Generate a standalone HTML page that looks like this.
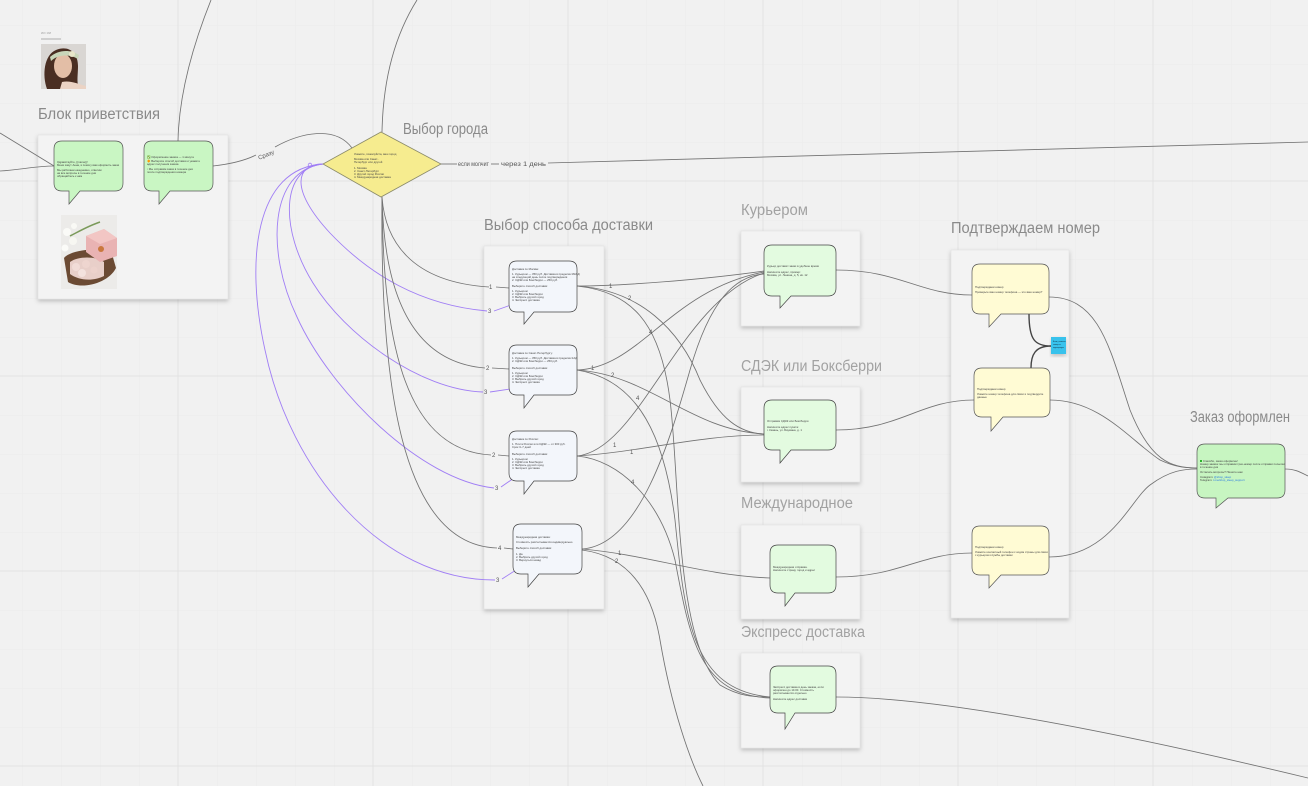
<!DOCTYPE html>
<html><head><meta charset="utf-8"><style>
html,body{margin:0;padding:0;background:#f1f1f1;}
svg{display:block;font-family:"Liberation Sans","DejaVu Sans",sans-serif;}
.t{fill:#8a8a8a;font-size:15.5px;}
.t2{fill:#a2a2a2;font-size:15.5px;}
.c{fill:none;stroke:#727272;stroke-width:0.85;}
.p{fill:none;stroke:#a07ef5;stroke-width:0.9;}
.lb{font-size:6px;fill:#555;}
.tx{font-size:2.8px;fill:#444;}
.fr{fill:#f3f3f3;stroke:#e2e2e2;stroke-width:0.6;filter:url(#sh);}
</style></head><body>
<svg width="1308" height="786" viewBox="0 0 1308 786" xmlns="http://www.w3.org/2000/svg">
<defs>
<pattern id="g" x="22" y="25" width="39" height="39" patternUnits="userSpaceOnUse">
<path d="M0,0 H39 M0,0 V39" stroke="#eaeaea" stroke-width="0.7" fill="none"/>
</pattern>
<filter id="sh" x="-10%" y="-10%" width="130%" height="130%">
<feDropShadow dx="0" dy="2" stdDeviation="2" flood-color="#000" flood-opacity="0.22"/>
</filter>
</defs>
<rect width="1308" height="786" fill="#f1f1f1"/>
<rect width="1308" height="786" fill="url(#g)"/>
<g stroke="#e2e2e2" stroke-width="0.9">
<line x1="178" y1="0" x2="178" y2="786"/><line x1="373" y1="0" x2="373" y2="786"/>
<line x1="568" y1="0" x2="568" y2="786"/><line x1="763" y1="0" x2="763" y2="786"/>
<line x1="958" y1="0" x2="958" y2="786"/><line x1="1153" y1="0" x2="1153" y2="786"/>
<line x1="0" y1="181" x2="1308" y2="181"/><line x1="0" y1="376" x2="1308" y2="376"/>
<line x1="0" y1="571" x2="1308" y2="571"/><line x1="0" y1="766" x2="1308" y2="766"/>
</g>

<!-- Frames -->
<rect class="fr" x="38" y="135" width="190" height="164"/>
<rect class="fr" x="484" y="246" width="120" height="363"/>
<rect class="fr" x="741" y="231" width="119" height="95"/>
<rect class="fr" x="741" y="387" width="119" height="95"/>
<rect class="fr" x="741" y="525" width="119" height="94"/>
<rect class="fr" x="741" y="653" width="119" height="95"/>
<rect class="fr" x="951" y="250" width="118" height="368"/>

<!-- Titles -->
<text class="t" x="38" y="119" textLength="122" lengthAdjust="spacingAndGlyphs">Блок приветствия</text>
<text class="t" x="403" y="134" textLength="85" lengthAdjust="spacingAndGlyphs">Выбор города</text>
<text class="t" x="484" y="230" textLength="169" lengthAdjust="spacingAndGlyphs">Выбор способа доставки</text>
<text class="t2" x="741" y="215" textLength="67" lengthAdjust="spacingAndGlyphs">Курьером</text>
<text class="t2" x="741" y="371" textLength="141" lengthAdjust="spacingAndGlyphs">СДЭК или Боксберри</text>
<text class="t2" x="741" y="508" textLength="112" lengthAdjust="spacingAndGlyphs">Международное</text>
<text class="t2" x="741" y="637" textLength="124" lengthAdjust="spacingAndGlyphs">Экспресс доставка</text>
<text class="t" x="951" y="233" textLength="149" lengthAdjust="spacingAndGlyphs">Подтверждаем номер</text>
<text class="t" x="1190" y="422" textLength="100" lengthAdjust="spacingAndGlyphs">Заказ оформлен</text>

<!-- Top-left avatar -->
<text x="41" y="34" font-size="4" fill="#aaa">ии ии</text>
<rect x="41" y="38" width="20" height="2" fill="#cfcfcf"/>
<rect x="41" y="44" width="45" height="45" fill="#d9d6d3"/>
<path d="M47,89 C42,75 44,55 56,50 C68,45 78,52 78,66 C78,76 76,84 80,89 Z" fill="#4a2e22"/>
<ellipse cx="63" cy="66" rx="9" ry="12" fill="#e3bea6"/>
<path d="M62,82 C70,80 78,84 86,86 L86,89 L60,89 Z" fill="#ebd3c4"/>
<path d="M50,57 C58,50 70,49 79,55 L78,59 C70,54 58,54 51,61 Z" fill="#c9d6b9"/>
<circle cx="72" cy="54" r="3" fill="#e8e6c9"/>

<!-- Product photo -->
<rect x="61" y="215" width="56" height="74" fill="#ecebe9"/>
<path d="M64,258 C70,250 100,246 112,254 L116,268 C108,284 80,290 68,282 Z" fill="#6b4a33"/>
<path d="M70,262 C78,256 96,256 104,262 L104,276 C92,282 78,280 70,274 Z" fill="#e8cfc9"/>
<circle cx="76" cy="267" r="4" fill="#f1dcd7"/><circle cx="86" cy="264" r="4" fill="#eed5cf"/><circle cx="82" cy="273" r="4" fill="#f3e2de"/><circle cx="94" cy="270" r="3.5" fill="#ecd2cc"/>
<path d="M86,236 L104,229 L117,238 L117,256 L100,262 L86,252 Z" fill="#e9b3b3"/>
<path d="M86,236 L104,229 L117,238 L100,244 Z" fill="#f2c6c4"/>
<circle cx="101" cy="249" r="3" fill="#c9783e"/>
<circle cx="67" cy="232" r="4" fill="#fafaf7"/><circle cx="73" cy="241" r="4" fill="#f7f7f2"/><circle cx="65" cy="248" r="3.5" fill="#fbfbf8"/><circle cx="74" cy="226" r="3" fill="#f9f9f5"/>
<path d="M70,236 C78,232 88,226 100,222" stroke="#7a9a5a" stroke-width="1.5" fill="none"/>

<!-- Connectors: top & left -->
<path class="c" d="M211,0 C195,40 179,90 178,141"/>
<path class="c" d="M417,0 C395,35 383,80 382,132"/>
<path class="c" d="M0,133 L54,166"/>
<path class="c" d="M0,171 C20,170 35,166 54,166"/>
<path class="c" d="M213,166 C240,163 252,157 256,155 M275,147 C300,133 335,125 352,148"/>
<text class="lb" x="257" y="157" transform="rotate(-22 265 153)">Сразу</text>

<!-- Diamond right -->
<path class="c" d="M441,164 H457" stroke-width="1.4"/>
<text class="lb" x="458" y="166" textLength="31" lengthAdjust="spacingAndGlyphs">если молчит</text>
<path class="c" d="M491,164 H499"/>
<text class="lb" x="501" y="166" textLength="45" lengthAdjust="spacingAndGlyphs">через 1 день</text>
<path class="c" d="M548,163 L1308,142"/>

<!-- Purple back links -->
<g class="p">
<path d="M323,164 C295,164 290,190 330,233 C370,275 420,305 487,311 M494,311 L511,305"/>
<path d="M323,164 C280,168 280,230 313,283 C345,335 420,390 483,392 M490,392 L510,389"/>
<path d="M323,164 C270,170 265,250 297,317 C330,390 420,480 494,488 M501,487 L514,478"/>
<path d="M323,164 C255,168 245,260 265,350 C290,470 380,580 495,580 M502,579 L516,570"/>
</g>
<circle cx="310" cy="165" r="1.8" fill="none" stroke="#a07ef5" stroke-width="0.8"/>
<text class="lb" x="488" y="313">3</text>
<text class="lb" x="484" y="394">3</text>
<text class="lb" x="495" y="490">3</text>
<text class="lb" x="496" y="582">3</text>

<!-- Black from diamond bottom -->
<g class="c">
<path d="M382,197 C385,240 410,282 489,287 M496,287 L509,288"/>
<path d="M382,197 C384,290 410,362 485,368 M492,368 L509,369"/>
<path d="M382,197 C383,330 400,450 491,455 M498,455 L509,456"/>
<path d="M382,197 C380,380 400,545 497,548 M504,548 L513,549"/>
</g>
<text class="lb" x="489" y="289">1</text>
<text class="lb" x="486" y="370">2</text>
<text class="lb" x="492" y="457">2</text>
<text class="lb" x="498" y="550">4</text>

<!-- Delivery choice -> methods -->
<g class="c">
<path d="M577,286 C620,286 700,280 764,271"/>
<path d="M577,286 C640,290 680,330 700,380 C720,420 740,433 764,434"/>
<path d="M577,286 C630,292 660,320 670,400 C680,480 675,640 720,685 C740,697 755,697 770,697"/>
<path d="M577,370 C640,368 670,290 764,272"/>
<path d="M577,370 C650,375 690,430 764,434"/>
<path d="M577,370 C640,380 665,440 675,520 C685,620 692,690 770,697"/>
<path d="M577,456 C640,450 680,300 764,273"/>
<path d="M577,456 C640,452 700,435 764,435"/>
<path d="M577,456 C620,460 660,500 675,560 C690,640 700,695 770,698"/>
<path d="M582,549 C640,545 670,440 690,370 C710,300 735,276 764,274"/>
<path d="M582,549 C650,555 700,575 770,578"/>
<path d="M582,550 C620,555 650,580 660,640 C672,710 690,760 703,786"/>
</g>
<g class="lb" font-size="5">
<text x="609" y="288">1</text><text x="628" y="300">2</text><text x="649" y="334">4</text>
<text x="591" y="370">1</text><text x="611" y="377">2</text><text x="636" y="400">4</text>
<text x="613" y="447">1</text><text x="630" y="454">1</text><text x="631" y="484">4</text>
<text x="618" y="555">1</text><text x="615" y="563">2</text>
</g>

<!-- Methods -> confirm -->
<g class="c">
<path d="M836,270 C900,270 920,295 972,295"/>
<path d="M836,430 C900,430 920,400 974,400"/>
<path d="M836,577 C900,577 920,553 972,553"/>
<path d="M836,697 C950,697 1150,740 1308,778"/>
<path d="M1049,297 C1100,297 1110,350 1130,410 C1150,460 1170,468 1197,468"/>
<path d="M1050,400 C1100,400 1130,440 1160,460 C1175,467 1185,468 1197,468"/>
<path d="M1049,557 C1110,557 1130,500 1150,485 C1170,470 1185,469 1197,469"/>
<path d="M1285,469 C1295,469 1300,472 1308,476"/>
</g>
<path d="M1029,314 C1029,340 1035,346 1051,346 M1031,368 C1031,355 1035,346 1051,346" fill="none" stroke="#444" stroke-width="1.4"/>

<!-- Diamond -->
<polygon points="381,132 441,164 381,197 323,164" fill="#f6ec8f" stroke="#8a8a6a" stroke-width="0.8"/>
<g class="tx" font-size="2.5">
<text x="354" y="155">Укажите, пожалуйста, ваш город</text>
<text x="354" y="160">Москва или Санкт-</text><text x="354" y="163">Петербург или другой</text>
<text x="354" y="169">1. Москва</text><text x="354" y="172">2. Санкт-Петербург</text>
<text x="354" y="175">3. Другой город России</text><text x="354" y="178">4. Международная доставка</text>
</g>

<!-- Welcome bubbles -->
<path d="M62,141 H115 Q123,141 123,149 V183 Q123,191 115,191 H80 L69,204 L69,191 H62 Q54,191 54,183 V149 Q54,141 62,141 Z" fill="#c9f6c3" stroke="#555" stroke-width="0.7"/>
<path d="M152,141 H205 Q213,141 213,149 V183 Q213,191 205,191 H170 L159,204 L159,191 H152 Q144,191 144,183 V149 Q144,141 152,141 Z" fill="#c9f6c3" stroke="#555" stroke-width="0.7"/>
<g class="tx">
<text x="57" y="163">Здравствуйте, {{name}}!</text>
<text x="57" y="166">Меня зовут Анна, я помогу вам оформить заказ</text>
<text x="57" y="171">Мы работаем ежедневно, ответим</text>
<text x="57" y="174">на все вопросы в течение дня</text>
<text x="57" y="177">обращайтесь к нам</text>
<text x="147" y="158">✅ Оформление заказа — 1 минута</text>
<text x="147" y="162">🔶 Выберите способ доставки и укажите</text>
<text x="147" y="165">адрес получения заказа</text>
<text x="147" y="170">▫ Мы отправим заказ в течение дня</text>
<text x="147" y="173">после подтверждения номера</text>
</g>

<!-- Delivery choice bubbles -->
<g fill="#f3f6fb" stroke="#444" stroke-width="0.7">
<path d="M517,261 H569 Q577,261 577,269 V304 Q577,312 569,312 H534 L524,324 L524,312 H517 Q509,312 509,304 V269 Q509,261 517,261 Z"/>
<path d="M517,345 H569 Q577,345 577,353 V387 Q577,395 569,395 H534 L524,408 L524,395 H517 Q509,395 509,387 V353 Q509,345 517,345 Z"/>
<path d="M517,431 H569 Q577,431 577,439 V473 Q577,481 569,481 H534 L524,494 L524,481 H517 Q509,481 509,473 V439 Q509,431 517,431 Z"/>
<path d="M521,524 H574 Q582,524 582,532 V566 Q582,574 574,574 H539 L528,587 L528,574 H521 Q513,574 513,566 V532 Q513,524 521,524 Z"/>
</g>
<g class="tx">
<text x="512" y="270">Доставка по Москве:</text>
<text x="512" y="275">1. Курьером — 350 руб. Доставка в пределах МКАД</text><text x="512" y="278">на следующий день после подтверждения</text><text x="512" y="281">2. СДЭК или Боксберри — 250 руб.</text>
<text x="512" y="287">Выберите способ доставки:</text>
<text x="512" y="292">1. Курьером</text><text x="512" y="295">2. СДЭК или Боксберри</text><text x="512" y="298">3. Выбрать другой город</text><text x="512" y="301">4. Экспресс доставка</text>
<text x="512" y="354">Доставка по Санкт-Петербургу:</text>
<text x="512" y="359">1. Курьером — 350 руб. Доставка в пределах КАД</text><text x="512" y="362">2. СДЭК или Боксберри — 250 руб.</text>
<text x="512" y="369">Выберите способ доставки:</text>
<text x="512" y="374">1. Курьером</text><text x="512" y="377">2. СДЭК или Боксберри</text><text x="512" y="380">3. Выбрать другой город</text><text x="512" y="383">4. Экспресс доставка</text>
<text x="512" y="440">Доставка по России:</text>
<text x="512" y="445">1. Почта России или СДЭК — от 300 руб.</text><text x="512" y="448">Срок 3–7 дней</text>
<text x="512" y="455">Выберите способ доставки:</text>
<text x="512" y="460">1. Курьером</text><text x="512" y="463">2. СДЭК или Боксберри</text><text x="512" y="466">3. Выбрать другой город</text><text x="512" y="469">4. Экспресс доставка</text>
<text x="516" y="538">Международная доставка:</text>
<text x="516" y="543">Стоимость рассчитывается индивидуально</text>
<text x="516" y="549">Выберите способ доставки:</text>
<text x="516" y="555">1. Да</text><text x="516" y="558">2. Выбрать другой город</text><text x="516" y="561">3. Вернуться назад</text>
</g>

<!-- Method bubbles -->
<g fill="#e3fbe0" stroke="#444" stroke-width="0.7">
<path d="M772,245 H828 Q836,245 836,253 V288 Q836,296 828,296 H791 L780,308 L780,296 H772 Q764,296 764,288 V253 Q764,245 772,245 Z"/>
<path d="M772,400 H828 Q836,400 836,408 V442 Q836,450 828,450 H791 L780,463 L780,450 H772 Q764,450 764,442 V408 Q764,400 772,400 Z"/>
<path d="M778,545 H828 Q836,545 836,553 V585 Q836,593 828,593 H795 L785,606 L785,593 H778 Q770,593 770,585 V553 Q770,545 778,545 Z"/>
<path d="M778,666 H828 Q836,666 836,674 V705 Q836,713 828,713 H795 L785,729 L785,713 H778 Q770,713 770,705 V674 Q770,666 778,666 Z"/>
</g>
<g class="tx">
<text x="767" y="267">Курьер доставит заказ в удобное время</text>
<text x="767" y="273">Напишите адрес, пример:</text><text x="767" y="276">Москва, ул. Ленина, д. 5, кв. 12</text>
<text x="767" y="422">Отправим СДЭК или Боксберри</text>
<text x="767" y="428">Напишите адрес пункта:</text><text x="767" y="431">г. Казань, ул. Баумана, д. 1</text>
<text x="773" y="568">Международная отправка.</text><text x="773" y="571">Напишите страну, город и адрес</text>
<text x="773" y="688">Экспресс доставка в день заказа, если</text><text x="773" y="691">оформлен до 14:00. Стоимость</text><text x="773" y="694">рассчитывается отдельно</text>
<text x="773" y="700">Напишите адрес доставки</text>
</g>

<!-- Confirm bubbles -->
<g fill="#fffbd4" stroke="#555" stroke-width="0.7">
<path d="M980,264 H1041 Q1049,264 1049,272 V306 Q1049,314 1041,314 H1001 L989,327 L989,314 H980 Q972,314 972,306 V272 Q972,264 980,264 Z"/>
<path d="M982,368 H1042 Q1050,368 1050,376 V409 Q1050,417 1042,417 H1003 L991,431 L991,417 H982 Q974,417 974,409 V376 Q974,368 982,368 Z"/>
<path d="M980,526 H1041 Q1049,526 1049,534 V567 Q1049,575 1041,575 H1001 L989,588 L989,575 H980 Q972,575 972,567 V534 Q972,526 980,526 Z"/>
</g>
<g class="tx">
<text x="975" y="288">Подтверждаем номер</text>
<text x="975" y="293">Проверьте ваш номер телефона — это ваш номер?</text>
<text x="977" y="390">Подтверждаем номер</text>
<text x="977" y="395">Укажите номер телефона для связи и подтвердите</text><text x="977" y="398">данные</text>
<text x="975" y="548">Подтверждаем номер</text>
<text x="975" y="553">Укажите контактный телефон с кодом страны для связи</text><text x="975" y="556">с курьером службы доставки</text>
</g>

<!-- Sticky -->
<rect x="1051" y="337" width="15" height="17" fill="#38c2ec" filter="url(#sh)"/>
<g font-size="1.8" fill="#123"><text x="1053" y="342">Если у клиента</text><text x="1053" y="345">номер не</text><text x="1053" y="348">подтвержден</text></g>

<!-- Final bubble -->
<path d="M1205,444 H1277 Q1285,444 1285,452 V490 Q1285,498 1277,498 H1228 L1216,508 L1216,498 H1205 Q1197,498 1197,490 V452 Q1197,444 1205,444 Z" fill="#c7f5c1" stroke="#555" stroke-width="0.7"/>
<rect x="1200" y="460" width="2" height="2" fill="#2bb52b"/>
<g class="tx" font-size="2.4">
<text x="1203" y="462">Спасибо, заказ оформлен!</text>
<text x="1200" y="465">Номер заказа: мы отправим трек-номер после отправки посылки</text>
<text x="1200" y="468">в течение дня</text>
<text x="1200" y="473">Остались вопросы? Пишите нам</text>
<text x="1200" y="478">Instagram: <tspan fill="#2a7ae2">@shop_sleep</tspan></text>
<text x="1200" y="481">Telegram: <tspan fill="#2a7ae2">t.me/shop_sleep_support</tspan></text>
</g>
</svg>
</body></html>
